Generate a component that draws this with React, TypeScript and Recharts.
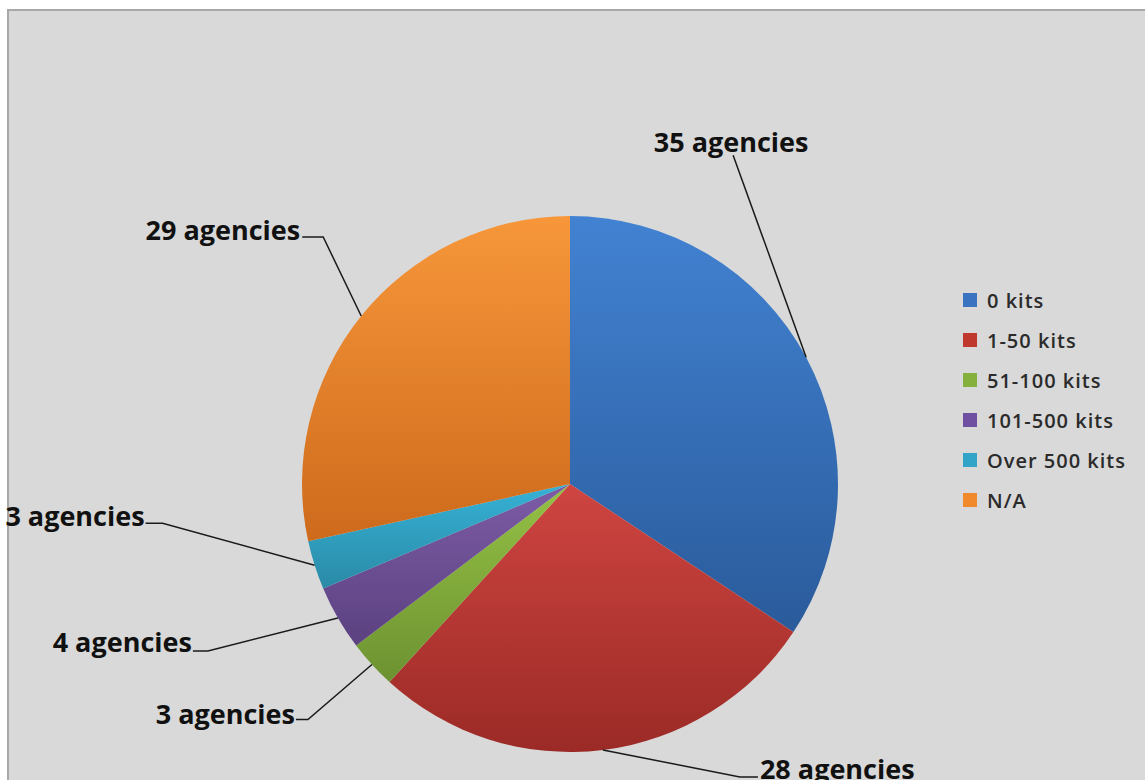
import { PieChart, Pie, Cell, Legend } from 'recharts'

const categories = ['0 kits', '1-50 kits', '51-100 kits', '101-500 kits', 'Over 500 kits', 'N/A']
const agencies = [35, 28, 3, 4, 3, 29]

const colorTop = ['#4282d2', '#cf4541', '#95c145', '#7d5ca6', '#36b2d6', '#f7973a']
const colorBottom = ['#2a5b9b', '#9b2a26', '#6c9231', '#5b4180', '#2a8aa6', '#cd6a1c']
const swatch = ['#3a73c0', '#c0392f', '#86b03e', '#7050a0', '#31a4c8', '#f08a2d']

// leader line layout: elbow offset from slice edge, horizontal run, text side and baseline shift
const labelLayout = [
  { dx: -73, dy: -202, run: 0, anchor: 'middle', tx: -2, ty: -3 },
  { dx: 137, dy: 27, run: 18, anchor: 'start', tx: 2, ty: 2 },
  { dx: -64, dy: 55, run: -12, anchor: 'end', tx: -1, ty: 4 },
  { dx: -130, dy: 33, run: -15, anchor: 'end', tx: -1, ty: 1 },
  { dx: -152, dy: -42, run: -17, anchor: 'end', tx: -1, ty: 3 },
  { dx: -38, dy: -79, run: -21, anchor: 'end', tx: -2, ty: 3 },
]

const data = categories.map((name, i) => ({ name, value: agencies[i] }))

const RAD = Math.PI / 180

function renderLabel(props: any) {
  const { cx, cy, midAngle, outerRadius, index, value } = props
  const ex = cx + outerRadius * Math.cos(-midAngle * RAD)
  const ey = cy + outerRadius * Math.sin(-midAngle * RAD)
  const l = labelLayout[index]
  const bx = ex + l.dx
  const by = ey + l.dy
  const endX = bx + l.run
  return (
    <g key={`lbl-${index}`}>
      <polyline
        points={`${ex},${ey} ${bx},${by} ${endX},${by}`}
        fill="none"
        stroke="#1a1a1a"
        strokeWidth={1.5}
      />
      <text
        x={endX + l.tx}
        y={by + l.ty}
        textAnchor={l.anchor as any}
        fill="#111"
        fontFamily="'Open Sans', sans-serif"
        fontWeight={700}
        fontSize={27}
      >
        {value} agencies
      </text>
    </g>
  )
}

function LegendBox() {
  return (
    <div style={{ fontFamily: "'Open Sans', sans-serif" }}>
      {categories.map((name, i) => (
        <div key={name} style={{ display: 'flex', alignItems: 'center', height: 40 }}>
          <span
            style={{
              display: 'inline-block',
              width: 14,
              height: 14,
              background: swatch[i],
              marginRight: 10,
            }}
          />
          <span style={{ fontSize: 20, fontWeight: 600, color: '#2b2b2b', letterSpacing: 1 }}>
            {name}
          </span>
        </div>
      ))}
    </div>
  )
}

export default function App() {
  return (
    <div style={{ position: 'fixed', left: 0, top: 0, width: 1145, height: 780, background: '#fff', overflow: 'hidden' }}>
      <div
        style={{
          position: 'absolute',
          left: 7,
          top: 9,
          right: 0,
          bottom: 0,
          background: '#d9d9d9',
          borderTop: '2px solid #a8a8a8',
          borderLeft: '2px solid #a8a8a8',
        }}
      />
      <div style={{ position: 'absolute', left: 0, top: 0 }}>
        <PieChart width={1145} height={780} margin={{ top: 0, right: 0, bottom: 0, left: 0 }}>
          <defs>
            {colorTop.map((c, i) => (
              <linearGradient key={i} id={`slice${i}`} x1="0" y1="0" x2="0" y2="1">
                <stop offset="0%" stopColor={c} />
                <stop offset="100%" stopColor={colorBottom[i]} />
              </linearGradient>
            ))}
          </defs>
          <Pie
            data={data}
            dataKey="value"
            nameKey="name"
            cx={570}
            cy={484}
            outerRadius={268}
            startAngle={90}
            endAngle={-270}
            stroke="none"
            label={renderLabel}
            labelLine={false}
            isAnimationActive={false}
          >
            {data.map((_, i) => (
              <Cell key={i} fill={`url(#slice${i})`} />
            ))}
          </Pie>
          <Legend
            layout="vertical"
            content={<LegendBox />}
            wrapperStyle={{ position: 'absolute', left: 963, top: 280, width: 182 }}
          />
        </PieChart>
      </div>
    </div>
  )
}
